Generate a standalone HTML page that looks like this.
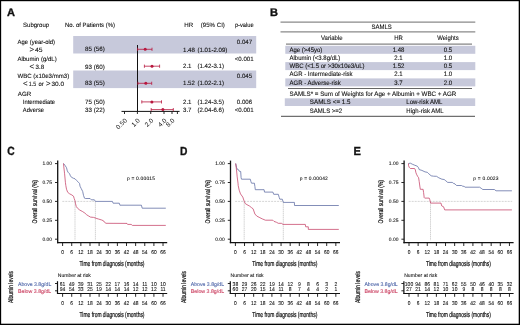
<!DOCTYPE html>
<html><head><meta charset="utf-8"><style>
html,body{margin:0;padding:0;background:#fff;}
#w{position:relative;width:520px;height:325px;overflow:hidden;background:#fff;}
svg{position:absolute;left:0;top:0;font-family:"Liberation Sans", sans-serif;will-change:transform;text-rendering:geometricPrecision;}
</style></head><body><div id="w">
<svg width="520" height="325" viewBox="0 0 520 325" font-family='"Liberation Sans", sans-serif'>
<text x="7" y="16.0" font-size="11" font-weight="bold" fill="#111" stroke="#111" stroke-width="0.35">A</text>
<rect x="73.2" y="36" width="183" height="17.5" fill="#c7c9db"/>
<rect x="73.2" y="70.5" width="183" height="17.6" fill="#c7c9db"/>
<text x="23" y="26.8" font-size="6.2" textLength="26.2" lengthAdjust="spacingAndGlyphs" fill="#111" stroke="#111" stroke-width="0.1">Subgroup</text>
<text x="65" y="26.8" font-size="6.2" textLength="50" lengthAdjust="spacingAndGlyphs" fill="#111" stroke="#111" stroke-width="0.1">No. of Patients (%)</text>
<text x="184.2" y="26.8" font-size="6.2" textLength="8.9" lengthAdjust="spacingAndGlyphs" fill="#111" stroke="#111" stroke-width="0.1">HR</text>
<text x="200.8" y="26.8" font-size="6.2" textLength="24.1" lengthAdjust="spacingAndGlyphs" fill="#111" stroke="#111" stroke-width="0.1">(95% CI)</text>
<text x="234.9" y="26.8" font-size="6.2" textLength="18.8" lengthAdjust="spacingAndGlyphs" fill="#111" stroke="#111" stroke-width="0.1">p-value</text>
<text x="17.6" y="44.2" font-size="6.2" textLength="37.4" lengthAdjust="spacingAndGlyphs" fill="#111" stroke="#111" stroke-width="0.1">Age (year-old)</text>
<text x="17.4" y="60.8" font-size="6.2" textLength="39.3" lengthAdjust="spacingAndGlyphs" fill="#111" stroke="#111" stroke-width="0.1">Albumin (g/dL)</text>
<text x="17.4" y="77.8" font-size="6.2" textLength="51.86" lengthAdjust="spacingAndGlyphs" fill="#111" stroke="#111" stroke-width="0.1">WBC (x10e3/mm3)</text>
<text x="17.8" y="96.4" font-size="6.2" textLength="13.5" lengthAdjust="spacingAndGlyphs" fill="#111" stroke="#111" stroke-width="0.1">AGR</text>
<text x="22.8" y="104.1" font-size="6.2" textLength="32.2" lengthAdjust="spacingAndGlyphs" fill="#111" stroke="#111" stroke-width="0.1">Intermediate</text>
<text x="22.8" y="111.5" font-size="6.2" textLength="21.2" lengthAdjust="spacingAndGlyphs" fill="#111" stroke="#111" stroke-width="0.1">Adverse</text>
<text x="29.6" y="51.7" font-size="7.8" fill="#111" stroke="#111" stroke-width="0.1">&gt;</text>
<text x="35.0" y="51.5" font-size="6.2" textLength="7.6" lengthAdjust="spacingAndGlyphs" fill="#111" stroke="#111" stroke-width="0.1">45</text>
<text x="29.6" y="69.2" font-size="7.8" fill="#111" stroke="#111" stroke-width="0.1">&lt;</text>
<text x="35.6" y="68.6" font-size="6.2" textLength="8.6" lengthAdjust="spacingAndGlyphs" fill="#111" stroke="#111" stroke-width="0.1">3.8</text>
<text x="23.0" y="85.9" font-size="7.8" fill="#111" stroke="#111" stroke-width="0.1">&lt;</text>
<text x="28.8" y="85.5" font-size="6.2" textLength="7.4" lengthAdjust="spacingAndGlyphs" fill="#111" stroke="#111" stroke-width="0.1">1.5</text>
<text x="38.6" y="85.5" font-size="6.2" textLength="5.2" lengthAdjust="spacingAndGlyphs" fill="#111" stroke="#111" stroke-width="0.1">or</text>
<text x="45.9" y="85.9" font-size="7.8" fill="#111" stroke="#111" stroke-width="0.1">&gt;</text>
<text x="51.5" y="85.5" font-size="6.2" textLength="12.6" lengthAdjust="spacingAndGlyphs" fill="#111" stroke="#111" stroke-width="0.1">30.0</text>
<text x="85.1" y="51.4" font-size="6.2" textLength="19.8" lengthAdjust="spacingAndGlyphs" fill="#111" stroke="#111" stroke-width="0.1">85 (56)</text>
<text x="85.1" y="68.5" font-size="6.2" textLength="19.8" lengthAdjust="spacingAndGlyphs" fill="#111" stroke="#111" stroke-width="0.1">93 (60)</text>
<text x="85.1" y="85.3" font-size="6.2" textLength="19.8" lengthAdjust="spacingAndGlyphs" fill="#111" stroke="#111" stroke-width="0.1">83 (55)</text>
<text x="85.1" y="104.1" font-size="6.2" textLength="19.8" lengthAdjust="spacingAndGlyphs" fill="#111" stroke="#111" stroke-width="0.1">75 (50)</text>
<text x="85.1" y="111.6" font-size="6.2" textLength="19.8" lengthAdjust="spacingAndGlyphs" fill="#111" stroke="#111" stroke-width="0.1">33 (22)</text>
<text x="183" y="51.6" font-size="6.2" textLength="11.87" lengthAdjust="spacingAndGlyphs" fill="#111" stroke="#111" stroke-width="0.1">1.48</text>
<text x="197.5" y="51.6" font-size="6.2" textLength="29.84" lengthAdjust="spacingAndGlyphs" fill="#111" stroke="#111" stroke-width="0.1">(1.01-2.09)</text>
<text x="183" y="68.2" font-size="6.2" textLength="8.48" lengthAdjust="spacingAndGlyphs" fill="#111" stroke="#111" stroke-width="0.1">2.1</text>
<text x="197.5" y="68.2" font-size="6.2" textLength="26.44" lengthAdjust="spacingAndGlyphs" fill="#111" stroke="#111" stroke-width="0.1">(1.42-3.1)</text>
<text x="183" y="84.8" font-size="6.2" textLength="11.87" lengthAdjust="spacingAndGlyphs" fill="#111" stroke="#111" stroke-width="0.1">1.52</text>
<text x="197.5" y="84.8" font-size="6.2" textLength="26.44" lengthAdjust="spacingAndGlyphs" fill="#111" stroke="#111" stroke-width="0.1">(1.02-2.1)</text>
<text x="183" y="104.1" font-size="6.2" textLength="8.48" lengthAdjust="spacingAndGlyphs" fill="#111" stroke="#111" stroke-width="0.1">2.1</text>
<text x="197.5" y="104.1" font-size="6.2" textLength="26.44" lengthAdjust="spacingAndGlyphs" fill="#111" stroke="#111" stroke-width="0.1">(1.24-3.5)</text>
<text x="183" y="111.6" font-size="6.2" textLength="8.48" lengthAdjust="spacingAndGlyphs" fill="#111" stroke="#111" stroke-width="0.1">3.7</text>
<text x="197.5" y="111.6" font-size="6.2" textLength="26.44" lengthAdjust="spacingAndGlyphs" fill="#111" stroke="#111" stroke-width="0.1">(2.04-6.6)</text>
<text x="236.8" y="44.0" font-size="6.2" textLength="15.26" lengthAdjust="spacingAndGlyphs" fill="#111" stroke="#111" stroke-width="0.1">0.047</text>
<text x="234.8" y="60.5" font-size="6.2" textLength="18.83" lengthAdjust="spacingAndGlyphs" fill="#111" stroke="#111" stroke-width="0.1">&lt;0.001</text>
<text x="236.8" y="77.6" font-size="6.2" textLength="15.26" lengthAdjust="spacingAndGlyphs" fill="#111" stroke="#111" stroke-width="0.1">0.045</text>
<text x="236.8" y="104.1" font-size="6.2" textLength="15.26" lengthAdjust="spacingAndGlyphs" fill="#111" stroke="#111" stroke-width="0.1">0.006</text>
<text x="234.8" y="111.6" font-size="6.2" textLength="18.83" lengthAdjust="spacingAndGlyphs" fill="#111" stroke="#111" stroke-width="0.1">&lt;0.001</text>
<line x1="137.5" y1="45" x2="137.5" y2="111.4" stroke="#111" stroke-width="1"/>
<line x1="121.5" y1="111.4" x2="179.6" y2="111.4" stroke="#111" stroke-width="1"/>
<line x1="124.5" y1="111.4" x2="124.5" y2="114" stroke="#111" stroke-width="0.9"/>
<line x1="137.4" y1="111.4" x2="137.4" y2="114" stroke="#111" stroke-width="0.9"/>
<line x1="150.75" y1="111.4" x2="150.75" y2="114" stroke="#111" stroke-width="0.9"/>
<line x1="164" y1="111.4" x2="164" y2="114" stroke="#111" stroke-width="0.9"/>
<line x1="172" y1="111.4" x2="172" y2="114" stroke="#111" stroke-width="0.9"/>
<line x1="177.4" y1="111.4" x2="177.4" y2="114" stroke="#111" stroke-width="0.9"/>
<text x="0" y="0" font-size="6.4" text-anchor="end" fill="#111" transform="translate(127.4,121.0) rotate(-45)">0.50</text>
<text x="0" y="0" font-size="6.4" text-anchor="end" fill="#111" transform="translate(140.3,121.0) rotate(-45)">1.0</text>
<text x="0" y="0" font-size="6.4" text-anchor="end" fill="#111" transform="translate(153.65,121.0) rotate(-45)">2.0</text>
<text x="0" y="0" font-size="6.4" text-anchor="end" fill="#111" transform="translate(166.9,121.0) rotate(-45)">4.0</text>
<text x="0" y="0" font-size="6.4" text-anchor="end" fill="#111" transform="translate(174.9,121.0) rotate(-45)">8.0</text>
<line x1="137.6" y1="49.3" x2="152" y2="49.3" stroke="#b8173e" stroke-width="0.8"/>
<line x1="137.6" y1="47.699999999999996" x2="137.6" y2="50.9" stroke="#b8173e" stroke-width="0.8"/>
<line x1="152" y1="47.699999999999996" x2="152" y2="50.9" stroke="#b8173e" stroke-width="0.8"/>
<circle cx="145.2" cy="49.3" r="1.5" fill="#b8173e"/>
<line x1="144.4" y1="66.2" x2="159.6" y2="66.2" stroke="#b8173e" stroke-width="0.8"/>
<line x1="144.4" y1="64.60000000000001" x2="144.4" y2="67.8" stroke="#b8173e" stroke-width="0.8"/>
<line x1="159.6" y1="64.60000000000001" x2="159.6" y2="67.8" stroke="#b8173e" stroke-width="0.8"/>
<circle cx="152" cy="66.2" r="1.5" fill="#b8173e"/>
<line x1="137.9" y1="83.3" x2="151.7" y2="83.3" stroke="#b8173e" stroke-width="0.8"/>
<line x1="137.9" y1="81.7" x2="137.9" y2="84.89999999999999" stroke="#b8173e" stroke-width="0.8"/>
<line x1="151.7" y1="81.7" x2="151.7" y2="84.89999999999999" stroke="#b8173e" stroke-width="0.8"/>
<circle cx="145.8" cy="83.3" r="1.5" fill="#b8173e"/>
<line x1="141.8" y1="101.9" x2="161.5" y2="101.9" stroke="#b8173e" stroke-width="0.8"/>
<line x1="141.8" y1="100.30000000000001" x2="141.8" y2="103.5" stroke="#b8173e" stroke-width="0.8"/>
<line x1="161.5" y1="100.30000000000001" x2="161.5" y2="103.5" stroke="#b8173e" stroke-width="0.8"/>
<circle cx="151.9" cy="101.9" r="1.5" fill="#b8173e"/>
<line x1="151.2" y1="109.6" x2="173.3" y2="109.6" stroke="#b8173e" stroke-width="0.8"/>
<line x1="151.2" y1="108.0" x2="151.2" y2="111.19999999999999" stroke="#b8173e" stroke-width="0.8"/>
<line x1="173.3" y1="108.0" x2="173.3" y2="111.19999999999999" stroke="#b8173e" stroke-width="0.8"/>
<circle cx="162.9" cy="109.6" r="1.5" fill="#b8173e"/>
<text x="270" y="16.1" font-size="11" font-weight="bold" fill="#111" stroke="#111" stroke-width="0.35">B</text>
<line x1="280.5" y1="22.2" x2="475.3" y2="22.2" stroke="#8a8a8a" stroke-width="1.2"/>
<line x1="280.5" y1="31.85" x2="475.3" y2="31.85" stroke="#8a8a8a" stroke-width="1.2"/>
<text x="381.7" y="29.4" font-size="6.4" text-anchor="middle" textLength="20.34" lengthAdjust="spacingAndGlyphs" fill="#111" stroke="#111" stroke-width="0.1">SAMLS</text>
<text x="331.8" y="40.4" font-size="6.4" text-anchor="middle" textLength="21.57" lengthAdjust="spacingAndGlyphs" fill="#111" stroke="#111" stroke-width="0.1">Variable</text>
<text x="398.5" y="40.4" font-size="6.4" text-anchor="middle" textLength="8.67" lengthAdjust="spacingAndGlyphs" fill="#111" stroke="#111" stroke-width="0.1">HR</text>
<text x="448" y="40.4" font-size="6.4" text-anchor="middle" textLength="21.56" lengthAdjust="spacingAndGlyphs" fill="#111" stroke="#111" stroke-width="0.1">Weights</text>
<line x1="286" y1="44.1" x2="472" y2="44.1" stroke="#555" stroke-width="0.9"/>
<rect x="285.3" y="45.8" width="190" height="8.0" fill="#c7c9db"/>
<text x="289.5" y="52.0" font-size="6.4" textLength="32.85" lengthAdjust="spacingAndGlyphs" fill="#111" stroke="#111" stroke-width="0.1">Age (&gt;45yo)</text>
<text x="398.5" y="52.0" font-size="6.4" text-anchor="middle" textLength="11.68" lengthAdjust="spacingAndGlyphs" fill="#111" stroke="#111" stroke-width="0.1">1.48</text>
<text x="448" y="52.0" font-size="6.4" text-anchor="middle" textLength="8.34" lengthAdjust="spacingAndGlyphs" fill="#111" stroke="#111" stroke-width="0.1">0.5</text>
<text x="289.5" y="60.15" font-size="6.4" textLength="50.86" lengthAdjust="spacingAndGlyphs" fill="#111" stroke="#111" stroke-width="0.1">Albumin (&lt;3.8g/dL)</text>
<text x="398.5" y="60.15" font-size="6.4" text-anchor="middle" textLength="8.34" lengthAdjust="spacingAndGlyphs" fill="#111" stroke="#111" stroke-width="0.1">2.1</text>
<text x="448" y="60.15" font-size="6.4" text-anchor="middle" textLength="8.34" lengthAdjust="spacingAndGlyphs" fill="#111" stroke="#111" stroke-width="0.1">1.0</text>
<rect x="285.3" y="62.099999999999994" width="190" height="8.0" fill="#c7c9db"/>
<text x="289.5" y="68.3" font-size="6.4" textLength="75.04" lengthAdjust="spacingAndGlyphs" fill="#111" stroke="#111" stroke-width="0.1">WBC (&lt;1.5 or &gt;30x10e3/uL)</text>
<text x="398.5" y="68.3" font-size="6.4" text-anchor="middle" textLength="11.68" lengthAdjust="spacingAndGlyphs" fill="#111" stroke="#111" stroke-width="0.1">1.52</text>
<text x="448" y="68.3" font-size="6.4" text-anchor="middle" textLength="8.34" lengthAdjust="spacingAndGlyphs" fill="#111" stroke="#111" stroke-width="0.1">0.5</text>
<text x="289.5" y="76.45" font-size="6.4" textLength="63.01" lengthAdjust="spacingAndGlyphs" fill="#111" stroke="#111" stroke-width="0.1">AGR - Intermediate-risk</text>
<text x="398.5" y="76.45" font-size="6.4" text-anchor="middle" textLength="8.34" lengthAdjust="spacingAndGlyphs" fill="#111" stroke="#111" stroke-width="0.1">2.1</text>
<text x="448" y="76.45" font-size="6.4" text-anchor="middle" textLength="8.34" lengthAdjust="spacingAndGlyphs" fill="#111" stroke="#111" stroke-width="0.1">1.0</text>
<rect x="285.3" y="78.4" width="190" height="8.0" fill="#c7c9db"/>
<text x="289.5" y="84.60000000000001" font-size="6.4" textLength="51.34" lengthAdjust="spacingAndGlyphs" fill="#111" stroke="#111" stroke-width="0.1">AGR - Adverse-risk</text>
<text x="398.5" y="84.60000000000001" font-size="6.4" text-anchor="middle" textLength="8.34" lengthAdjust="spacingAndGlyphs" fill="#111" stroke="#111" stroke-width="0.1">3.7</text>
<text x="448" y="84.60000000000001" font-size="6.4" text-anchor="middle" textLength="8.34" lengthAdjust="spacingAndGlyphs" fill="#111" stroke="#111" stroke-width="0.1">2.0</text>
<line x1="288" y1="88.5" x2="472" y2="88.5" stroke="#555" stroke-width="0.9"/>
<text x="289.6" y="95.6" font-size="6.4" textLength="166.7" lengthAdjust="spacingAndGlyphs" fill="#111" stroke="#111" stroke-width="0.1">SAMLS* = Sum of Weights for Age + Albumin + WBC + AGR</text>
<rect x="284.8" y="98.3" width="190.4" height="7.7" fill="#c7c9db"/>
<text x="309.8" y="104.4" font-size="6.4" textLength="40.69" lengthAdjust="spacingAndGlyphs" fill="#111" stroke="#111" stroke-width="0.1">SAMLS &lt;=  1.5</text>
<text x="406.3" y="104.4" font-size="6.4" textLength="36.01" lengthAdjust="spacingAndGlyphs" fill="#111" stroke="#111" stroke-width="0.1">Low-risk AML</text>
<text x="309.8" y="112.9" font-size="6.4" textLength="32.35" lengthAdjust="spacingAndGlyphs" fill="#111" stroke="#111" stroke-width="0.1">SAMLS &gt;=2</text>
<text x="406.3" y="112.9" font-size="6.4" textLength="37.34" lengthAdjust="spacingAndGlyphs" fill="#111" stroke="#111" stroke-width="0.1">High-risk AML</text>
<line x1="281" y1="116.4" x2="475" y2="116.4" stroke="#6f6f6f" stroke-width="1.1"/>
<text x="7.2" y="154.6" font-size="11.8" font-weight="bold" textLength="7.4" lengthAdjust="spacingAndGlyphs" fill="#111" stroke="#111" stroke-width="0.35">C</text>
<line x1="57.7" y1="160.6" x2="57.7" y2="243.2" stroke="#111" stroke-width="1.3"/>
<line x1="57.0" y1="242.6" x2="167.2" y2="242.6" stroke="#111" stroke-width="1.3"/>
<line x1="55" y1="163.6" x2="57.7" y2="163.6" stroke="#111" stroke-width="0.9"/>
<text x="52.0" y="165.4" font-size="5.0" text-anchor="end" textLength="9.6" lengthAdjust="spacingAndGlyphs" fill="#111" stroke="#111" stroke-width="0.08">1.00</text>
<line x1="55" y1="182.5" x2="57.7" y2="182.5" stroke="#111" stroke-width="0.9"/>
<text x="52.0" y="184.3" font-size="5.0" text-anchor="end" textLength="9.6" lengthAdjust="spacingAndGlyphs" fill="#111" stroke="#111" stroke-width="0.08">0.75</text>
<line x1="55" y1="201.39999999999998" x2="57.7" y2="201.39999999999998" stroke="#111" stroke-width="0.9"/>
<text x="52.0" y="203.2" font-size="5.0" text-anchor="end" textLength="9.6" lengthAdjust="spacingAndGlyphs" fill="#111" stroke="#111" stroke-width="0.08">0.50</text>
<line x1="55" y1="220.29999999999998" x2="57.7" y2="220.29999999999998" stroke="#111" stroke-width="0.9"/>
<text x="52.0" y="222.1" font-size="5.0" text-anchor="end" textLength="9.6" lengthAdjust="spacingAndGlyphs" fill="#111" stroke="#111" stroke-width="0.08">0.25</text>
<line x1="55" y1="239.2" x2="57.7" y2="239.2" stroke="#111" stroke-width="0.9"/>
<text x="52.0" y="241.0" font-size="5.0" text-anchor="end" textLength="9.6" lengthAdjust="spacingAndGlyphs" fill="#111" stroke="#111" stroke-width="0.08">0.00</text>
<line x1="62.6" y1="242.6" x2="62.6" y2="246" stroke="#111" stroke-width="0.9"/>
<text x="62.6" y="254.4" font-size="5.6" text-anchor="middle" textLength="2.72" lengthAdjust="spacingAndGlyphs" fill="#111" stroke="#111" stroke-width="0.08">0</text>
<line x1="71.73" y1="242.6" x2="71.73" y2="246" stroke="#111" stroke-width="0.9"/>
<text x="71.73" y="254.4" font-size="5.6" text-anchor="middle" textLength="2.72" lengthAdjust="spacingAndGlyphs" fill="#111" stroke="#111" stroke-width="0.08">6</text>
<line x1="80.86" y1="242.6" x2="80.86" y2="246" stroke="#111" stroke-width="0.9"/>
<text x="80.86" y="254.4" font-size="5.6" text-anchor="middle" textLength="5.45" lengthAdjust="spacingAndGlyphs" fill="#111" stroke="#111" stroke-width="0.08">12</text>
<line x1="89.99000000000001" y1="242.6" x2="89.99000000000001" y2="246" stroke="#111" stroke-width="0.9"/>
<text x="89.99000000000001" y="254.4" font-size="5.6" text-anchor="middle" textLength="5.45" lengthAdjust="spacingAndGlyphs" fill="#111" stroke="#111" stroke-width="0.08">18</text>
<line x1="99.12" y1="242.6" x2="99.12" y2="246" stroke="#111" stroke-width="0.9"/>
<text x="99.12" y="254.4" font-size="5.6" text-anchor="middle" textLength="5.45" lengthAdjust="spacingAndGlyphs" fill="#111" stroke="#111" stroke-width="0.08">24</text>
<line x1="108.25" y1="242.6" x2="108.25" y2="246" stroke="#111" stroke-width="0.9"/>
<text x="108.25" y="254.4" font-size="5.6" text-anchor="middle" textLength="5.45" lengthAdjust="spacingAndGlyphs" fill="#111" stroke="#111" stroke-width="0.08">30</text>
<line x1="117.38" y1="242.6" x2="117.38" y2="246" stroke="#111" stroke-width="0.9"/>
<text x="117.38" y="254.4" font-size="5.6" text-anchor="middle" textLength="5.45" lengthAdjust="spacingAndGlyphs" fill="#111" stroke="#111" stroke-width="0.08">36</text>
<line x1="126.51" y1="242.6" x2="126.51" y2="246" stroke="#111" stroke-width="0.9"/>
<text x="126.51" y="254.4" font-size="5.6" text-anchor="middle" textLength="5.45" lengthAdjust="spacingAndGlyphs" fill="#111" stroke="#111" stroke-width="0.08">42</text>
<line x1="135.64000000000001" y1="242.6" x2="135.64000000000001" y2="246" stroke="#111" stroke-width="0.9"/>
<text x="135.64000000000001" y="254.4" font-size="5.6" text-anchor="middle" textLength="5.45" lengthAdjust="spacingAndGlyphs" fill="#111" stroke="#111" stroke-width="0.08">48</text>
<line x1="144.77" y1="242.6" x2="144.77" y2="246" stroke="#111" stroke-width="0.9"/>
<text x="144.77" y="254.4" font-size="5.6" text-anchor="middle" textLength="5.45" lengthAdjust="spacingAndGlyphs" fill="#111" stroke="#111" stroke-width="0.08">54</text>
<line x1="153.9" y1="242.6" x2="153.9" y2="246" stroke="#111" stroke-width="0.9"/>
<text x="153.9" y="254.4" font-size="5.6" text-anchor="middle" textLength="5.45" lengthAdjust="spacingAndGlyphs" fill="#111" stroke="#111" stroke-width="0.08">60</text>
<line x1="163.03" y1="242.6" x2="163.03" y2="246" stroke="#111" stroke-width="0.9"/>
<text x="163.03" y="254.4" font-size="5.6" text-anchor="middle" textLength="5.45" lengthAdjust="spacingAndGlyphs" fill="#111" stroke="#111" stroke-width="0.08">66</text>
<text x="0" y="0" font-size="6.8" text-anchor="middle" fill="#111" stroke="#111" stroke-width="0.22" transform="translate(37.0,201.7) rotate(-90)" textLength="43.4" lengthAdjust="spacingAndGlyphs">Overall survival (%)</text>
<text x="112.0" y="265.8" font-size="7.2" text-anchor="middle" textLength="65.0" lengthAdjust="spacingAndGlyphs" fill="#111" stroke="#111" stroke-width="0.22">Time from diagnosis (months)</text>
<text x="126.9" y="180.3" font-size="4.9" textLength="28.14" lengthAdjust="spacing" fill="#111" stroke="#111" stroke-width="0.08">p = 0.00015</text>
<line x1="62.3" y1="201.4" x2="95.4" y2="201.4" stroke="#c4c4c4" stroke-width="0.7" stroke-dasharray="2,1"/>
<line x1="75.0" y1="201.4" x2="75.0" y2="240.2" stroke="#c4c4c4" stroke-width="0.75" stroke-dasharray="1.4,0.5"/>
<line x1="95.4" y1="201.4" x2="95.4" y2="240.2" stroke="#c4c4c4" stroke-width="0.75" stroke-dasharray="1.4,0.5"/>
<polyline points="63.50,163.50 65.00,165.40 66.50,167.70 67.30,170.80 68.10,172.30 69.60,173.80 70.40,175.80 71.50,177.30 73.50,178.30 75.00,178.80 76.50,180.40 78.50,182.30 79.60,183.60 80.00,186.20 81.20,188.50 82.70,191.50 83.50,195.40 84.50,198.20 85.40,198.50 90.10,198.50 91.30,199.80 94.40,199.80 95.40,201.40 112.40,201.40 113.10,203.20 119.30,203.20 119.90,205.20 141.40,205.20 142.20,208.20 165.80,208.20" fill="none" stroke="#5a68a0" stroke-width="0.75" stroke-linejoin="miter"/>
<polyline points="63.50,163.50 63.80,166.90 64.60,173.80 65.40,182.30 65.80,185.40 66.50,189.20 67.70,192.30 69.60,193.80 71.90,195.00 73.50,196.20 74.20,198.50 75.00,200.80 75.40,203.20 76.30,206.60 77.60,208.30 79.80,210.10 82.30,211.40 84.90,213.10 86.70,214.80 88.80,216.10 90.50,217.10 93.60,217.40 96.10,218.30 98.70,219.10 101.70,220.00 103.50,220.80 104.30,222.10 106.00,223.30 127.00,223.40 127.60,224.40 131.20,224.40 132.40,225.40 165.80,225.40" fill="none" stroke="#c43f66" stroke-width="0.75" stroke-linejoin="miter"/>
<text x="0" y="0" font-size="6.8" text-anchor="middle" fill="#111" stroke="#111" stroke-width="0.22" transform="translate(13.3,287) rotate(-90)" textLength="32" lengthAdjust="spacingAndGlyphs">Albumin levels</text>
<text x="57.8" y="276.5" font-size="5.2" textLength="33" lengthAdjust="spacingAndGlyphs" fill="#111" stroke="#111" stroke-width="0.08">Number at risk</text>
<text x="18" y="285.5" font-size="5.3" textLength="33.3" lengthAdjust="spacingAndGlyphs" fill="#4a62a6" stroke="#4a62a6" stroke-width="0.1">Above 3.8g/dL</text>
<text x="18" y="292.6" font-size="5.3" textLength="33.3" lengthAdjust="spacingAndGlyphs" fill="#c8385a" stroke="#c8385a" stroke-width="0.1">Below 3.8g/dL</text>
<line x1="57.5" y1="281.2" x2="57.5" y2="294" stroke="#111" stroke-width="1.2"/>
<line x1="55" y1="283.5" x2="57.5" y2="283.5" stroke="#111" stroke-width="0.9"/>
<line x1="55" y1="290.8" x2="57.5" y2="290.8" stroke="#111" stroke-width="0.9"/>
<line x1="57" y1="293.5" x2="167.2" y2="293.5" stroke="#111" stroke-width="1.2"/>
<line x1="62.6" y1="293.5" x2="62.6" y2="296.8" stroke="#111" stroke-width="0.9"/>
<text x="62.6" y="305.3" font-size="5.6" text-anchor="middle" textLength="2.72" lengthAdjust="spacingAndGlyphs" fill="#111" stroke="#111" stroke-width="0.08">0</text>
<text x="62.6" y="285.7" font-size="5.6" text-anchor="middle" textLength="5.56" lengthAdjust="spacingAndGlyphs" fill="#111" stroke="#111" stroke-width="0.08">61</text>
<text x="62.6" y="291.3" font-size="5.6" text-anchor="middle" textLength="5.56" lengthAdjust="spacingAndGlyphs" fill="#111" stroke="#111" stroke-width="0.08">94</text>
<line x1="71.73" y1="293.5" x2="71.73" y2="296.8" stroke="#111" stroke-width="0.9"/>
<text x="71.73" y="305.3" font-size="5.6" text-anchor="middle" textLength="2.72" lengthAdjust="spacingAndGlyphs" fill="#111" stroke="#111" stroke-width="0.08">6</text>
<text x="71.73" y="285.7" font-size="5.6" text-anchor="middle" textLength="5.56" lengthAdjust="spacingAndGlyphs" fill="#111" stroke="#111" stroke-width="0.08">49</text>
<text x="71.73" y="291.3" font-size="5.6" text-anchor="middle" textLength="5.56" lengthAdjust="spacingAndGlyphs" fill="#111" stroke="#111" stroke-width="0.08">54</text>
<line x1="80.86" y1="293.5" x2="80.86" y2="296.8" stroke="#111" stroke-width="0.9"/>
<text x="80.86" y="305.3" font-size="5.6" text-anchor="middle" textLength="5.45" lengthAdjust="spacingAndGlyphs" fill="#111" stroke="#111" stroke-width="0.08">12</text>
<text x="80.86" y="285.7" font-size="5.6" text-anchor="middle" textLength="5.56" lengthAdjust="spacingAndGlyphs" fill="#111" stroke="#111" stroke-width="0.08">39</text>
<text x="80.86" y="291.3" font-size="5.6" text-anchor="middle" textLength="5.56" lengthAdjust="spacingAndGlyphs" fill="#111" stroke="#111" stroke-width="0.08">33</text>
<line x1="89.99000000000001" y1="293.5" x2="89.99000000000001" y2="296.8" stroke="#111" stroke-width="0.9"/>
<text x="89.99000000000001" y="305.3" font-size="5.6" text-anchor="middle" textLength="5.45" lengthAdjust="spacingAndGlyphs" fill="#111" stroke="#111" stroke-width="0.08">18</text>
<text x="89.99000000000001" y="285.7" font-size="5.6" text-anchor="middle" textLength="5.56" lengthAdjust="spacingAndGlyphs" fill="#111" stroke="#111" stroke-width="0.08">31</text>
<text x="89.99000000000001" y="291.3" font-size="5.6" text-anchor="middle" textLength="5.56" lengthAdjust="spacingAndGlyphs" fill="#111" stroke="#111" stroke-width="0.08">25</text>
<line x1="99.12" y1="293.5" x2="99.12" y2="296.8" stroke="#111" stroke-width="0.9"/>
<text x="99.12" y="305.3" font-size="5.6" text-anchor="middle" textLength="5.45" lengthAdjust="spacingAndGlyphs" fill="#111" stroke="#111" stroke-width="0.08">24</text>
<text x="99.12" y="285.7" font-size="5.6" text-anchor="middle" textLength="5.56" lengthAdjust="spacingAndGlyphs" fill="#111" stroke="#111" stroke-width="0.08">25</text>
<text x="99.12" y="291.3" font-size="5.6" text-anchor="middle" textLength="5.56" lengthAdjust="spacingAndGlyphs" fill="#111" stroke="#111" stroke-width="0.08">19</text>
<line x1="108.25" y1="293.5" x2="108.25" y2="296.8" stroke="#111" stroke-width="0.9"/>
<text x="108.25" y="305.3" font-size="5.6" text-anchor="middle" textLength="5.45" lengthAdjust="spacingAndGlyphs" fill="#111" stroke="#111" stroke-width="0.08">30</text>
<text x="108.25" y="285.7" font-size="5.6" text-anchor="middle" textLength="5.56" lengthAdjust="spacingAndGlyphs" fill="#111" stroke="#111" stroke-width="0.08">22</text>
<text x="108.25" y="291.3" font-size="5.6" text-anchor="middle" textLength="5.56" lengthAdjust="spacingAndGlyphs" fill="#111" stroke="#111" stroke-width="0.08">14</text>
<line x1="117.38" y1="293.5" x2="117.38" y2="296.8" stroke="#111" stroke-width="0.9"/>
<text x="117.38" y="305.3" font-size="5.6" text-anchor="middle" textLength="5.45" lengthAdjust="spacingAndGlyphs" fill="#111" stroke="#111" stroke-width="0.08">36</text>
<text x="117.38" y="285.7" font-size="5.6" text-anchor="middle" textLength="5.56" lengthAdjust="spacingAndGlyphs" fill="#111" stroke="#111" stroke-width="0.08">17</text>
<text x="117.38" y="291.3" font-size="5.6" text-anchor="middle" textLength="5.56" lengthAdjust="spacingAndGlyphs" fill="#111" stroke="#111" stroke-width="0.08">14</text>
<line x1="126.51" y1="293.5" x2="126.51" y2="296.8" stroke="#111" stroke-width="0.9"/>
<text x="126.51" y="305.3" font-size="5.6" text-anchor="middle" textLength="5.45" lengthAdjust="spacingAndGlyphs" fill="#111" stroke="#111" stroke-width="0.08">42</text>
<text x="126.51" y="285.7" font-size="5.6" text-anchor="middle" textLength="5.56" lengthAdjust="spacingAndGlyphs" fill="#111" stroke="#111" stroke-width="0.08">16</text>
<text x="126.51" y="291.3" font-size="5.6" text-anchor="middle" textLength="5.56" lengthAdjust="spacingAndGlyphs" fill="#111" stroke="#111" stroke-width="0.08">14</text>
<line x1="135.64000000000001" y1="293.5" x2="135.64000000000001" y2="296.8" stroke="#111" stroke-width="0.9"/>
<text x="135.64000000000001" y="305.3" font-size="5.6" text-anchor="middle" textLength="5.45" lengthAdjust="spacingAndGlyphs" fill="#111" stroke="#111" stroke-width="0.08">48</text>
<text x="135.64000000000001" y="285.7" font-size="5.6" text-anchor="middle" textLength="5.56" lengthAdjust="spacingAndGlyphs" fill="#111" stroke="#111" stroke-width="0.08">14</text>
<text x="135.64000000000001" y="291.3" font-size="5.6" text-anchor="middle" textLength="5.56" lengthAdjust="spacingAndGlyphs" fill="#111" stroke="#111" stroke-width="0.08">12</text>
<line x1="144.77" y1="293.5" x2="144.77" y2="296.8" stroke="#111" stroke-width="0.9"/>
<text x="144.77" y="305.3" font-size="5.6" text-anchor="middle" textLength="5.45" lengthAdjust="spacingAndGlyphs" fill="#111" stroke="#111" stroke-width="0.08">54</text>
<text x="144.77" y="285.7" font-size="5.6" text-anchor="middle" textLength="5.19" lengthAdjust="spacingAndGlyphs" fill="#111" stroke="#111" stroke-width="0.08">11</text>
<text x="144.77" y="291.3" font-size="5.6" text-anchor="middle" textLength="5.56" lengthAdjust="spacingAndGlyphs" fill="#111" stroke="#111" stroke-width="0.08">12</text>
<line x1="153.9" y1="293.5" x2="153.9" y2="296.8" stroke="#111" stroke-width="0.9"/>
<text x="153.9" y="305.3" font-size="5.6" text-anchor="middle" textLength="5.45" lengthAdjust="spacingAndGlyphs" fill="#111" stroke="#111" stroke-width="0.08">60</text>
<text x="153.9" y="285.7" font-size="5.6" text-anchor="middle" textLength="5.56" lengthAdjust="spacingAndGlyphs" fill="#111" stroke="#111" stroke-width="0.08">10</text>
<text x="153.9" y="291.3" font-size="5.6" text-anchor="middle" textLength="5.56" lengthAdjust="spacingAndGlyphs" fill="#111" stroke="#111" stroke-width="0.08">12</text>
<line x1="163.03" y1="293.5" x2="163.03" y2="296.8" stroke="#111" stroke-width="0.9"/>
<text x="163.03" y="305.3" font-size="5.6" text-anchor="middle" textLength="5.45" lengthAdjust="spacingAndGlyphs" fill="#111" stroke="#111" stroke-width="0.08">66</text>
<text x="163.03" y="285.7" font-size="5.6" text-anchor="middle" textLength="5.56" lengthAdjust="spacingAndGlyphs" fill="#111" stroke="#111" stroke-width="0.08">10</text>
<text x="163.03" y="291.3" font-size="5.6" text-anchor="middle" textLength="5.19" lengthAdjust="spacingAndGlyphs" fill="#111" stroke="#111" stroke-width="0.08">11</text>
<text x="112.0" y="317.2" font-size="7.2" text-anchor="middle" textLength="65.0" lengthAdjust="spacingAndGlyphs" fill="#111" stroke="#111" stroke-width="0.22">Time from diagnosis (months)</text>
<text x="180.0" y="154.6" font-size="11.8" font-weight="bold" textLength="7.4" lengthAdjust="spacingAndGlyphs" fill="#111" stroke="#111" stroke-width="0.35">D</text>
<line x1="230.5" y1="160.6" x2="230.5" y2="243.2" stroke="#111" stroke-width="1.3"/>
<line x1="229.8" y1="242.6" x2="340.0" y2="242.6" stroke="#111" stroke-width="1.3"/>
<line x1="227.8" y1="163.6" x2="230.5" y2="163.6" stroke="#111" stroke-width="0.9"/>
<text x="224.8" y="165.4" font-size="5.0" text-anchor="end" textLength="9.6" lengthAdjust="spacingAndGlyphs" fill="#111" stroke="#111" stroke-width="0.08">1.00</text>
<line x1="227.8" y1="182.5" x2="230.5" y2="182.5" stroke="#111" stroke-width="0.9"/>
<text x="224.8" y="184.3" font-size="5.0" text-anchor="end" textLength="9.6" lengthAdjust="spacingAndGlyphs" fill="#111" stroke="#111" stroke-width="0.08">0.75</text>
<line x1="227.8" y1="201.39999999999998" x2="230.5" y2="201.39999999999998" stroke="#111" stroke-width="0.9"/>
<text x="224.8" y="203.2" font-size="5.0" text-anchor="end" textLength="9.6" lengthAdjust="spacingAndGlyphs" fill="#111" stroke="#111" stroke-width="0.08">0.50</text>
<line x1="227.8" y1="220.29999999999998" x2="230.5" y2="220.29999999999998" stroke="#111" stroke-width="0.9"/>
<text x="224.8" y="222.1" font-size="5.0" text-anchor="end" textLength="9.6" lengthAdjust="spacingAndGlyphs" fill="#111" stroke="#111" stroke-width="0.08">0.25</text>
<line x1="227.8" y1="239.2" x2="230.5" y2="239.2" stroke="#111" stroke-width="0.9"/>
<text x="224.8" y="241.0" font-size="5.0" text-anchor="end" textLength="9.6" lengthAdjust="spacingAndGlyphs" fill="#111" stroke="#111" stroke-width="0.08">0.00</text>
<line x1="235.4" y1="242.6" x2="235.4" y2="246" stroke="#111" stroke-width="0.9"/>
<text x="235.4" y="254.4" font-size="5.6" text-anchor="middle" textLength="2.72" lengthAdjust="spacingAndGlyphs" fill="#111" stroke="#111" stroke-width="0.08">0</text>
<line x1="244.53000000000003" y1="242.6" x2="244.53000000000003" y2="246" stroke="#111" stroke-width="0.9"/>
<text x="244.53000000000003" y="254.4" font-size="5.6" text-anchor="middle" textLength="2.72" lengthAdjust="spacingAndGlyphs" fill="#111" stroke="#111" stroke-width="0.08">6</text>
<line x1="253.66000000000003" y1="242.6" x2="253.66000000000003" y2="246" stroke="#111" stroke-width="0.9"/>
<text x="253.66000000000003" y="254.4" font-size="5.6" text-anchor="middle" textLength="5.45" lengthAdjust="spacingAndGlyphs" fill="#111" stroke="#111" stroke-width="0.08">12</text>
<line x1="262.79" y1="242.6" x2="262.79" y2="246" stroke="#111" stroke-width="0.9"/>
<text x="262.79" y="254.4" font-size="5.6" text-anchor="middle" textLength="5.45" lengthAdjust="spacingAndGlyphs" fill="#111" stroke="#111" stroke-width="0.08">18</text>
<line x1="271.92" y1="242.6" x2="271.92" y2="246" stroke="#111" stroke-width="0.9"/>
<text x="271.92" y="254.4" font-size="5.6" text-anchor="middle" textLength="5.45" lengthAdjust="spacingAndGlyphs" fill="#111" stroke="#111" stroke-width="0.08">24</text>
<line x1="281.05" y1="242.6" x2="281.05" y2="246" stroke="#111" stroke-width="0.9"/>
<text x="281.05" y="254.4" font-size="5.6" text-anchor="middle" textLength="5.45" lengthAdjust="spacingAndGlyphs" fill="#111" stroke="#111" stroke-width="0.08">30</text>
<line x1="290.18" y1="242.6" x2="290.18" y2="246" stroke="#111" stroke-width="0.9"/>
<text x="290.18" y="254.4" font-size="5.6" text-anchor="middle" textLength="5.45" lengthAdjust="spacingAndGlyphs" fill="#111" stroke="#111" stroke-width="0.08">36</text>
<line x1="299.31" y1="242.6" x2="299.31" y2="246" stroke="#111" stroke-width="0.9"/>
<text x="299.31" y="254.4" font-size="5.6" text-anchor="middle" textLength="5.45" lengthAdjust="spacingAndGlyphs" fill="#111" stroke="#111" stroke-width="0.08">42</text>
<line x1="308.44000000000005" y1="242.6" x2="308.44000000000005" y2="246" stroke="#111" stroke-width="0.9"/>
<text x="308.44000000000005" y="254.4" font-size="5.6" text-anchor="middle" textLength="5.45" lengthAdjust="spacingAndGlyphs" fill="#111" stroke="#111" stroke-width="0.08">48</text>
<line x1="317.57000000000005" y1="242.6" x2="317.57000000000005" y2="246" stroke="#111" stroke-width="0.9"/>
<text x="317.57000000000005" y="254.4" font-size="5.6" text-anchor="middle" textLength="5.45" lengthAdjust="spacingAndGlyphs" fill="#111" stroke="#111" stroke-width="0.08">54</text>
<line x1="326.70000000000005" y1="242.6" x2="326.70000000000005" y2="246" stroke="#111" stroke-width="0.9"/>
<text x="326.70000000000005" y="254.4" font-size="5.6" text-anchor="middle" textLength="5.45" lengthAdjust="spacingAndGlyphs" fill="#111" stroke="#111" stroke-width="0.08">60</text>
<line x1="335.83000000000004" y1="242.6" x2="335.83000000000004" y2="246" stroke="#111" stroke-width="0.9"/>
<text x="335.83000000000004" y="254.4" font-size="5.6" text-anchor="middle" textLength="5.45" lengthAdjust="spacingAndGlyphs" fill="#111" stroke="#111" stroke-width="0.08">66</text>
<text x="0" y="0" font-size="6.8" text-anchor="middle" fill="#111" stroke="#111" stroke-width="0.22" transform="translate(209.8,201.7) rotate(-90)" textLength="43.4" lengthAdjust="spacingAndGlyphs">Overall survival (%)</text>
<text x="284.8" y="265.8" font-size="7.2" text-anchor="middle" textLength="65.0" lengthAdjust="spacingAndGlyphs" fill="#111" stroke="#111" stroke-width="0.22">Time from diagnosis (months)</text>
<text x="299.70000000000005" y="180.3" font-size="4.9" textLength="28.14" lengthAdjust="spacing" fill="#111" stroke="#111" stroke-width="0.08">p = 0.00042</text>
<line x1="235.10000000000002" y1="201.4" x2="283.3" y2="201.4" stroke="#c4c4c4" stroke-width="0.7" stroke-dasharray="2,1"/>
<line x1="244.2" y1="201.4" x2="244.2" y2="240.2" stroke="#c4c4c4" stroke-width="0.75" stroke-dasharray="1.4,0.5"/>
<line x1="283.3" y1="201.4" x2="283.3" y2="240.2" stroke="#c4c4c4" stroke-width="0.75" stroke-dasharray="1.4,0.5"/>
<polyline points="235.70,163.50 236.50,167.30 237.20,169.20 238.40,169.60 239.20,171.20 240.70,171.50 241.10,177.70 241.50,179.20 250.30,179.20 250.90,181.50 251.50,183.20 254.40,183.20 254.90,186.50 255.30,189.70 264.10,189.70 264.50,192.10 272.90,192.10 273.70,194.30 278.30,194.30 279.20,197.40 279.80,199.20 282.30,199.20 283.30,202.40 294.40,202.40 294.50,205.50 338.80,205.50" fill="none" stroke="#5a68a0" stroke-width="0.75" stroke-linejoin="miter"/>
<polyline points="235.70,163.50 236.50,170.00 237.20,176.90 238.00,183.10 238.20,185.50 239.20,190.20 240.50,193.90 242.80,197.10 244.20,201.20 245.20,203.50 247.00,204.70 249.30,205.90 251.60,207.70 253.10,208.80 254.90,214.00 256.80,216.10 259.90,217.70 262.30,218.90 265.40,220.20 272.80,220.20 274.00,221.40 276.50,222.30 278.30,223.30 281.40,223.30 283.00,224.40 305.30,224.40 305.70,226.80 308.30,226.80 308.30,229.40 338.80,229.40" fill="none" stroke="#c43f66" stroke-width="0.75" stroke-linejoin="miter"/>
<text x="0" y="0" font-size="6.8" text-anchor="middle" fill="#111" stroke="#111" stroke-width="0.22" transform="translate(186.10000000000002,287) rotate(-90)" textLength="32" lengthAdjust="spacingAndGlyphs">Albumin levels</text>
<text x="230.60000000000002" y="276.5" font-size="5.2" textLength="33" lengthAdjust="spacingAndGlyphs" fill="#111" stroke="#111" stroke-width="0.08">Number at risk</text>
<text x="190.8" y="285.5" font-size="5.3" textLength="33.3" lengthAdjust="spacingAndGlyphs" fill="#4a62a6" stroke="#4a62a6" stroke-width="0.1">Above 3.8g/dL</text>
<text x="190.8" y="292.6" font-size="5.3" textLength="33.3" lengthAdjust="spacingAndGlyphs" fill="#c8385a" stroke="#c8385a" stroke-width="0.1">Below 3.8g/dL</text>
<line x1="230.3" y1="281.2" x2="230.3" y2="294" stroke="#111" stroke-width="1.2"/>
<line x1="227.8" y1="283.5" x2="230.3" y2="283.5" stroke="#111" stroke-width="0.9"/>
<line x1="227.8" y1="290.8" x2="230.3" y2="290.8" stroke="#111" stroke-width="0.9"/>
<line x1="229.8" y1="293.5" x2="340.0" y2="293.5" stroke="#111" stroke-width="1.2"/>
<line x1="235.4" y1="293.5" x2="235.4" y2="296.8" stroke="#111" stroke-width="0.9"/>
<text x="235.4" y="305.3" font-size="5.6" text-anchor="middle" textLength="2.72" lengthAdjust="spacingAndGlyphs" fill="#111" stroke="#111" stroke-width="0.08">0</text>
<text x="235.4" y="285.7" font-size="5.6" text-anchor="middle" textLength="5.56" lengthAdjust="spacingAndGlyphs" fill="#111" stroke="#111" stroke-width="0.08">38</text>
<text x="235.4" y="291.3" font-size="5.6" text-anchor="middle" textLength="5.56" lengthAdjust="spacingAndGlyphs" fill="#111" stroke="#111" stroke-width="0.08">60</text>
<line x1="244.53000000000003" y1="293.5" x2="244.53000000000003" y2="296.8" stroke="#111" stroke-width="0.9"/>
<text x="244.53000000000003" y="305.3" font-size="5.6" text-anchor="middle" textLength="2.72" lengthAdjust="spacingAndGlyphs" fill="#111" stroke="#111" stroke-width="0.08">6</text>
<text x="244.53000000000003" y="285.7" font-size="5.6" text-anchor="middle" textLength="5.56" lengthAdjust="spacingAndGlyphs" fill="#111" stroke="#111" stroke-width="0.08">29</text>
<text x="244.53000000000003" y="291.3" font-size="5.6" text-anchor="middle" textLength="5.56" lengthAdjust="spacingAndGlyphs" fill="#111" stroke="#111" stroke-width="0.08">27</text>
<line x1="253.66000000000003" y1="293.5" x2="253.66000000000003" y2="296.8" stroke="#111" stroke-width="0.9"/>
<text x="253.66000000000003" y="305.3" font-size="5.6" text-anchor="middle" textLength="5.45" lengthAdjust="spacingAndGlyphs" fill="#111" stroke="#111" stroke-width="0.08">12</text>
<text x="253.66000000000003" y="285.7" font-size="5.6" text-anchor="middle" textLength="5.56" lengthAdjust="spacingAndGlyphs" fill="#111" stroke="#111" stroke-width="0.08">26</text>
<text x="253.66000000000003" y="291.3" font-size="5.6" text-anchor="middle" textLength="5.56" lengthAdjust="spacingAndGlyphs" fill="#111" stroke="#111" stroke-width="0.08">20</text>
<line x1="262.79" y1="293.5" x2="262.79" y2="296.8" stroke="#111" stroke-width="0.9"/>
<text x="262.79" y="305.3" font-size="5.6" text-anchor="middle" textLength="5.45" lengthAdjust="spacingAndGlyphs" fill="#111" stroke="#111" stroke-width="0.08">18</text>
<text x="262.79" y="285.7" font-size="5.6" text-anchor="middle" textLength="5.56" lengthAdjust="spacingAndGlyphs" fill="#111" stroke="#111" stroke-width="0.08">22</text>
<text x="262.79" y="291.3" font-size="5.6" text-anchor="middle" textLength="5.56" lengthAdjust="spacingAndGlyphs" fill="#111" stroke="#111" stroke-width="0.08">15</text>
<line x1="271.92" y1="293.5" x2="271.92" y2="296.8" stroke="#111" stroke-width="0.9"/>
<text x="271.92" y="305.3" font-size="5.6" text-anchor="middle" textLength="5.45" lengthAdjust="spacingAndGlyphs" fill="#111" stroke="#111" stroke-width="0.08">24</text>
<text x="271.92" y="285.7" font-size="5.6" text-anchor="middle" textLength="5.56" lengthAdjust="spacingAndGlyphs" fill="#111" stroke="#111" stroke-width="0.08">19</text>
<text x="271.92" y="291.3" font-size="5.6" text-anchor="middle" textLength="5.56" lengthAdjust="spacingAndGlyphs" fill="#111" stroke="#111" stroke-width="0.08">14</text>
<line x1="281.05" y1="293.5" x2="281.05" y2="296.8" stroke="#111" stroke-width="0.9"/>
<text x="281.05" y="305.3" font-size="5.6" text-anchor="middle" textLength="5.45" lengthAdjust="spacingAndGlyphs" fill="#111" stroke="#111" stroke-width="0.08">30</text>
<text x="281.05" y="285.7" font-size="5.6" text-anchor="middle" textLength="5.56" lengthAdjust="spacingAndGlyphs" fill="#111" stroke="#111" stroke-width="0.08">14</text>
<text x="281.05" y="291.3" font-size="5.6" text-anchor="middle" textLength="5.19" lengthAdjust="spacingAndGlyphs" fill="#111" stroke="#111" stroke-width="0.08">11</text>
<line x1="290.18" y1="293.5" x2="290.18" y2="296.8" stroke="#111" stroke-width="0.9"/>
<text x="290.18" y="305.3" font-size="5.6" text-anchor="middle" textLength="5.45" lengthAdjust="spacingAndGlyphs" fill="#111" stroke="#111" stroke-width="0.08">36</text>
<text x="290.18" y="285.7" font-size="5.6" text-anchor="middle" textLength="5.56" lengthAdjust="spacingAndGlyphs" fill="#111" stroke="#111" stroke-width="0.08">12</text>
<text x="290.18" y="291.3" font-size="5.6" text-anchor="middle" textLength="2.78" lengthAdjust="spacingAndGlyphs" fill="#111" stroke="#111" stroke-width="0.08">8</text>
<line x1="299.31" y1="293.5" x2="299.31" y2="296.8" stroke="#111" stroke-width="0.9"/>
<text x="299.31" y="305.3" font-size="5.6" text-anchor="middle" textLength="5.45" lengthAdjust="spacingAndGlyphs" fill="#111" stroke="#111" stroke-width="0.08">42</text>
<text x="299.31" y="285.7" font-size="5.6" text-anchor="middle" textLength="2.78" lengthAdjust="spacingAndGlyphs" fill="#111" stroke="#111" stroke-width="0.08">9</text>
<text x="299.31" y="291.3" font-size="5.6" text-anchor="middle" textLength="2.78" lengthAdjust="spacingAndGlyphs" fill="#111" stroke="#111" stroke-width="0.08">7</text>
<line x1="308.44000000000005" y1="293.5" x2="308.44000000000005" y2="296.8" stroke="#111" stroke-width="0.9"/>
<text x="308.44000000000005" y="305.3" font-size="5.6" text-anchor="middle" textLength="5.45" lengthAdjust="spacingAndGlyphs" fill="#111" stroke="#111" stroke-width="0.08">48</text>
<text x="308.44000000000005" y="285.7" font-size="5.6" text-anchor="middle" textLength="2.78" lengthAdjust="spacingAndGlyphs" fill="#111" stroke="#111" stroke-width="0.08">8</text>
<text x="308.44000000000005" y="291.3" font-size="5.6" text-anchor="middle" textLength="2.78" lengthAdjust="spacingAndGlyphs" fill="#111" stroke="#111" stroke-width="0.08">4</text>
<line x1="317.57000000000005" y1="293.5" x2="317.57000000000005" y2="296.8" stroke="#111" stroke-width="0.9"/>
<text x="317.57000000000005" y="305.3" font-size="5.6" text-anchor="middle" textLength="5.45" lengthAdjust="spacingAndGlyphs" fill="#111" stroke="#111" stroke-width="0.08">54</text>
<text x="317.57000000000005" y="285.7" font-size="5.6" text-anchor="middle" textLength="2.78" lengthAdjust="spacingAndGlyphs" fill="#111" stroke="#111" stroke-width="0.08">6</text>
<text x="317.57000000000005" y="291.3" font-size="5.6" text-anchor="middle" textLength="2.78" lengthAdjust="spacingAndGlyphs" fill="#111" stroke="#111" stroke-width="0.08">4</text>
<line x1="326.70000000000005" y1="293.5" x2="326.70000000000005" y2="296.8" stroke="#111" stroke-width="0.9"/>
<text x="326.70000000000005" y="305.3" font-size="5.6" text-anchor="middle" textLength="5.45" lengthAdjust="spacingAndGlyphs" fill="#111" stroke="#111" stroke-width="0.08">60</text>
<text x="326.70000000000005" y="285.7" font-size="5.6" text-anchor="middle" textLength="2.78" lengthAdjust="spacingAndGlyphs" fill="#111" stroke="#111" stroke-width="0.08">3</text>
<text x="326.70000000000005" y="291.3" font-size="5.6" text-anchor="middle" textLength="2.78" lengthAdjust="spacingAndGlyphs" fill="#111" stroke="#111" stroke-width="0.08">2</text>
<line x1="335.83000000000004" y1="293.5" x2="335.83000000000004" y2="296.8" stroke="#111" stroke-width="0.9"/>
<text x="335.83000000000004" y="305.3" font-size="5.6" text-anchor="middle" textLength="5.45" lengthAdjust="spacingAndGlyphs" fill="#111" stroke="#111" stroke-width="0.08">66</text>
<text x="335.83000000000004" y="285.7" font-size="5.6" text-anchor="middle" textLength="2.78" lengthAdjust="spacingAndGlyphs" fill="#111" stroke="#111" stroke-width="0.08">2</text>
<text x="335.83000000000004" y="291.3" font-size="5.6" text-anchor="middle" textLength="2.78" lengthAdjust="spacingAndGlyphs" fill="#111" stroke="#111" stroke-width="0.08">1</text>
<text x="284.8" y="317.2" font-size="7.2" text-anchor="middle" textLength="65.0" lengthAdjust="spacingAndGlyphs" fill="#111" stroke="#111" stroke-width="0.22">Time from diagnosis (months)</text>
<text x="353.59999999999997" y="154.6" font-size="11.8" font-weight="bold" textLength="7.4" lengthAdjust="spacingAndGlyphs" fill="#111" stroke="#111" stroke-width="0.35">E</text>
<line x1="404.09999999999997" y1="160.6" x2="404.09999999999997" y2="243.2" stroke="#111" stroke-width="1.3"/>
<line x1="403.4" y1="242.6" x2="513.5999999999999" y2="242.6" stroke="#111" stroke-width="1.3"/>
<line x1="401.4" y1="163.6" x2="404.09999999999997" y2="163.6" stroke="#111" stroke-width="0.9"/>
<text x="398.4" y="165.4" font-size="5.0" text-anchor="end" textLength="9.6" lengthAdjust="spacingAndGlyphs" fill="#111" stroke="#111" stroke-width="0.08">1.00</text>
<line x1="401.4" y1="182.5" x2="404.09999999999997" y2="182.5" stroke="#111" stroke-width="0.9"/>
<text x="398.4" y="184.3" font-size="5.0" text-anchor="end" textLength="9.6" lengthAdjust="spacingAndGlyphs" fill="#111" stroke="#111" stroke-width="0.08">0.75</text>
<line x1="401.4" y1="201.39999999999998" x2="404.09999999999997" y2="201.39999999999998" stroke="#111" stroke-width="0.9"/>
<text x="398.4" y="203.2" font-size="5.0" text-anchor="end" textLength="9.6" lengthAdjust="spacingAndGlyphs" fill="#111" stroke="#111" stroke-width="0.08">0.50</text>
<line x1="401.4" y1="220.29999999999998" x2="404.09999999999997" y2="220.29999999999998" stroke="#111" stroke-width="0.9"/>
<text x="398.4" y="222.1" font-size="5.0" text-anchor="end" textLength="9.6" lengthAdjust="spacingAndGlyphs" fill="#111" stroke="#111" stroke-width="0.08">0.25</text>
<line x1="401.4" y1="239.2" x2="404.09999999999997" y2="239.2" stroke="#111" stroke-width="0.9"/>
<text x="398.4" y="241.0" font-size="5.0" text-anchor="end" textLength="9.6" lengthAdjust="spacingAndGlyphs" fill="#111" stroke="#111" stroke-width="0.08">0.00</text>
<line x1="409.0" y1="242.6" x2="409.0" y2="246" stroke="#111" stroke-width="0.9"/>
<text x="409.0" y="254.4" font-size="5.6" text-anchor="middle" textLength="2.72" lengthAdjust="spacingAndGlyphs" fill="#111" stroke="#111" stroke-width="0.08">0</text>
<line x1="418.13" y1="242.6" x2="418.13" y2="246" stroke="#111" stroke-width="0.9"/>
<text x="418.13" y="254.4" font-size="5.6" text-anchor="middle" textLength="2.72" lengthAdjust="spacingAndGlyphs" fill="#111" stroke="#111" stroke-width="0.08">6</text>
<line x1="427.26" y1="242.6" x2="427.26" y2="246" stroke="#111" stroke-width="0.9"/>
<text x="427.26" y="254.4" font-size="5.6" text-anchor="middle" textLength="5.45" lengthAdjust="spacingAndGlyphs" fill="#111" stroke="#111" stroke-width="0.08">12</text>
<line x1="436.39" y1="242.6" x2="436.39" y2="246" stroke="#111" stroke-width="0.9"/>
<text x="436.39" y="254.4" font-size="5.6" text-anchor="middle" textLength="5.45" lengthAdjust="spacingAndGlyphs" fill="#111" stroke="#111" stroke-width="0.08">18</text>
<line x1="445.52" y1="242.6" x2="445.52" y2="246" stroke="#111" stroke-width="0.9"/>
<text x="445.52" y="254.4" font-size="5.6" text-anchor="middle" textLength="5.45" lengthAdjust="spacingAndGlyphs" fill="#111" stroke="#111" stroke-width="0.08">24</text>
<line x1="454.65" y1="242.6" x2="454.65" y2="246" stroke="#111" stroke-width="0.9"/>
<text x="454.65" y="254.4" font-size="5.6" text-anchor="middle" textLength="5.45" lengthAdjust="spacingAndGlyphs" fill="#111" stroke="#111" stroke-width="0.08">30</text>
<line x1="463.78" y1="242.6" x2="463.78" y2="246" stroke="#111" stroke-width="0.9"/>
<text x="463.78" y="254.4" font-size="5.6" text-anchor="middle" textLength="5.45" lengthAdjust="spacingAndGlyphs" fill="#111" stroke="#111" stroke-width="0.08">36</text>
<line x1="472.90999999999997" y1="242.6" x2="472.90999999999997" y2="246" stroke="#111" stroke-width="0.9"/>
<text x="472.90999999999997" y="254.4" font-size="5.6" text-anchor="middle" textLength="5.45" lengthAdjust="spacingAndGlyphs" fill="#111" stroke="#111" stroke-width="0.08">42</text>
<line x1="482.03999999999996" y1="242.6" x2="482.03999999999996" y2="246" stroke="#111" stroke-width="0.9"/>
<text x="482.03999999999996" y="254.4" font-size="5.6" text-anchor="middle" textLength="5.45" lengthAdjust="spacingAndGlyphs" fill="#111" stroke="#111" stroke-width="0.08">48</text>
<line x1="491.16999999999996" y1="242.6" x2="491.16999999999996" y2="246" stroke="#111" stroke-width="0.9"/>
<text x="491.16999999999996" y="254.4" font-size="5.6" text-anchor="middle" textLength="5.45" lengthAdjust="spacingAndGlyphs" fill="#111" stroke="#111" stroke-width="0.08">54</text>
<line x1="500.29999999999995" y1="242.6" x2="500.29999999999995" y2="246" stroke="#111" stroke-width="0.9"/>
<text x="500.29999999999995" y="254.4" font-size="5.6" text-anchor="middle" textLength="5.45" lengthAdjust="spacingAndGlyphs" fill="#111" stroke="#111" stroke-width="0.08">60</text>
<line x1="509.42999999999995" y1="242.6" x2="509.42999999999995" y2="246" stroke="#111" stroke-width="0.9"/>
<text x="509.42999999999995" y="254.4" font-size="5.6" text-anchor="middle" textLength="5.45" lengthAdjust="spacingAndGlyphs" fill="#111" stroke="#111" stroke-width="0.08">66</text>
<text x="0" y="0" font-size="6.8" text-anchor="middle" fill="#111" stroke="#111" stroke-width="0.22" transform="translate(383.4,201.7) rotate(-90)" textLength="43.4" lengthAdjust="spacingAndGlyphs">Overall survival (%)</text>
<text x="458.4" y="265.8" font-size="7.2" text-anchor="middle" textLength="65.0" lengthAdjust="spacingAndGlyphs" fill="#111" stroke="#111" stroke-width="0.22">Time from diagnosis (months)</text>
<text x="473.29999999999995" y="180.3" font-size="4.9" textLength="25.2" lengthAdjust="spacing" fill="#111" stroke="#111" stroke-width="0.08">p = 0.0023</text>
<line x1="408.7" y1="201.4" x2="512.2" y2="201.4" stroke="#c4c4c4" stroke-width="0.7" stroke-dasharray="2,1"/>
<line x1="430.5" y1="201.4" x2="430.5" y2="240.2" stroke="#c4c4c4" stroke-width="0.75" stroke-dasharray="1.4,0.5"/>
<polyline points="408.50,163.50 410.40,163.20 412.30,164.20 414.20,165.00 417.30,166.20 418.50,167.70 419.20,169.60 421.90,170.40 425.00,171.90 427.30,172.30 428.80,173.80 431.20,175.80 433.50,176.20 436.50,176.30 438.80,177.80 441.90,179.20 444.20,179.50 445.80,180.80 447.70,182.40 452.30,182.40 453.50,183.40 455.00,183.90 456.50,185.50 461.50,185.50 462.70,186.20 464.20,186.40 465.00,187.20 479.60,187.20 481.20,188.30 482.80,189.50 494.40,189.50 496.00,190.80 511.90,190.80" fill="none" stroke="#5a68a0" stroke-width="0.75" stroke-linejoin="miter"/>
<polyline points="408.50,163.50 408.50,165.40 409.20,167.30 410.40,168.50 414.60,168.50 415.40,170.00 415.80,172.30 416.50,174.20 417.70,176.50 418.60,177.70 419.20,181.50 419.80,186.00 420.30,189.30 423.10,189.30 423.60,192.60 424.20,197.60 424.70,198.10 429.20,198.10 429.70,199.30 430.60,203.10 441.00,203.10 441.70,205.90 443.60,206.80 444.70,209.90 511.90,209.90" fill="none" stroke="#c43f66" stroke-width="0.75" stroke-linejoin="miter"/>
<text x="0" y="0" font-size="6.8" text-anchor="middle" fill="#111" stroke="#111" stroke-width="0.22" transform="translate(359.7,287) rotate(-90)" textLength="32" lengthAdjust="spacingAndGlyphs">Albumin levels</text>
<text x="404.2" y="276.5" font-size="5.2" textLength="33" lengthAdjust="spacingAndGlyphs" fill="#111" stroke="#111" stroke-width="0.08">Number at risk</text>
<text x="364.4" y="285.5" font-size="5.3" textLength="33.3" lengthAdjust="spacingAndGlyphs" fill="#4a62a6" stroke="#4a62a6" stroke-width="0.1">Above 3.8g/dL</text>
<text x="364.4" y="292.6" font-size="5.3" textLength="33.3" lengthAdjust="spacingAndGlyphs" fill="#c8385a" stroke="#c8385a" stroke-width="0.1">Below 3.8g/dL</text>
<line x1="403.9" y1="281.2" x2="403.9" y2="294" stroke="#111" stroke-width="1.2"/>
<line x1="401.4" y1="283.5" x2="403.9" y2="283.5" stroke="#111" stroke-width="0.9"/>
<line x1="401.4" y1="290.8" x2="403.9" y2="290.8" stroke="#111" stroke-width="0.9"/>
<line x1="403.4" y1="293.5" x2="513.5999999999999" y2="293.5" stroke="#111" stroke-width="1.2"/>
<line x1="409.0" y1="293.5" x2="409.0" y2="296.8" stroke="#111" stroke-width="0.9"/>
<text x="409.0" y="305.3" font-size="5.6" text-anchor="middle" textLength="2.72" lengthAdjust="spacingAndGlyphs" fill="#111" stroke="#111" stroke-width="0.08">0</text>
<text x="409.0" y="285.7" font-size="5.6" text-anchor="middle" textLength="8.34" lengthAdjust="spacingAndGlyphs" fill="#111" stroke="#111" stroke-width="0.08">100</text>
<text x="409.0" y="291.3" font-size="5.6" text-anchor="middle" textLength="5.56" lengthAdjust="spacingAndGlyphs" fill="#111" stroke="#111" stroke-width="0.08">27</text>
<line x1="418.13" y1="293.5" x2="418.13" y2="296.8" stroke="#111" stroke-width="0.9"/>
<text x="418.13" y="305.3" font-size="5.6" text-anchor="middle" textLength="2.72" lengthAdjust="spacingAndGlyphs" fill="#111" stroke="#111" stroke-width="0.08">6</text>
<text x="418.13" y="285.7" font-size="5.6" text-anchor="middle" textLength="5.56" lengthAdjust="spacingAndGlyphs" fill="#111" stroke="#111" stroke-width="0.08">94</text>
<text x="418.13" y="291.3" font-size="5.6" text-anchor="middle" textLength="5.56" lengthAdjust="spacingAndGlyphs" fill="#111" stroke="#111" stroke-width="0.08">21</text>
<line x1="427.26" y1="293.5" x2="427.26" y2="296.8" stroke="#111" stroke-width="0.9"/>
<text x="427.26" y="305.3" font-size="5.6" text-anchor="middle" textLength="5.45" lengthAdjust="spacingAndGlyphs" fill="#111" stroke="#111" stroke-width="0.08">12</text>
<text x="427.26" y="285.7" font-size="5.6" text-anchor="middle" textLength="5.56" lengthAdjust="spacingAndGlyphs" fill="#111" stroke="#111" stroke-width="0.08">86</text>
<text x="427.26" y="291.3" font-size="5.6" text-anchor="middle" textLength="5.56" lengthAdjust="spacingAndGlyphs" fill="#111" stroke="#111" stroke-width="0.08">14</text>
<line x1="436.39" y1="293.5" x2="436.39" y2="296.8" stroke="#111" stroke-width="0.9"/>
<text x="436.39" y="305.3" font-size="5.6" text-anchor="middle" textLength="5.45" lengthAdjust="spacingAndGlyphs" fill="#111" stroke="#111" stroke-width="0.08">18</text>
<text x="436.39" y="285.7" font-size="5.6" text-anchor="middle" textLength="5.56" lengthAdjust="spacingAndGlyphs" fill="#111" stroke="#111" stroke-width="0.08">81</text>
<text x="436.39" y="291.3" font-size="5.6" text-anchor="middle" textLength="5.56" lengthAdjust="spacingAndGlyphs" fill="#111" stroke="#111" stroke-width="0.08">12</text>
<line x1="445.52" y1="293.5" x2="445.52" y2="296.8" stroke="#111" stroke-width="0.9"/>
<text x="445.52" y="305.3" font-size="5.6" text-anchor="middle" textLength="5.45" lengthAdjust="spacingAndGlyphs" fill="#111" stroke="#111" stroke-width="0.08">24</text>
<text x="445.52" y="285.7" font-size="5.6" text-anchor="middle" textLength="5.56" lengthAdjust="spacingAndGlyphs" fill="#111" stroke="#111" stroke-width="0.08">71</text>
<text x="445.52" y="291.3" font-size="5.6" text-anchor="middle" textLength="5.56" lengthAdjust="spacingAndGlyphs" fill="#111" stroke="#111" stroke-width="0.08">10</text>
<line x1="454.65" y1="293.5" x2="454.65" y2="296.8" stroke="#111" stroke-width="0.9"/>
<text x="454.65" y="305.3" font-size="5.6" text-anchor="middle" textLength="5.45" lengthAdjust="spacingAndGlyphs" fill="#111" stroke="#111" stroke-width="0.08">30</text>
<text x="454.65" y="285.7" font-size="5.6" text-anchor="middle" textLength="5.56" lengthAdjust="spacingAndGlyphs" fill="#111" stroke="#111" stroke-width="0.08">62</text>
<text x="454.65" y="291.3" font-size="5.6" text-anchor="middle" textLength="5.56" lengthAdjust="spacingAndGlyphs" fill="#111" stroke="#111" stroke-width="0.08">10</text>
<line x1="463.78" y1="293.5" x2="463.78" y2="296.8" stroke="#111" stroke-width="0.9"/>
<text x="463.78" y="305.3" font-size="5.6" text-anchor="middle" textLength="5.45" lengthAdjust="spacingAndGlyphs" fill="#111" stroke="#111" stroke-width="0.08">36</text>
<text x="463.78" y="285.7" font-size="5.6" text-anchor="middle" textLength="5.56" lengthAdjust="spacingAndGlyphs" fill="#111" stroke="#111" stroke-width="0.08">55</text>
<text x="463.78" y="291.3" font-size="5.6" text-anchor="middle" textLength="2.78" lengthAdjust="spacingAndGlyphs" fill="#111" stroke="#111" stroke-width="0.08">9</text>
<line x1="472.90999999999997" y1="293.5" x2="472.90999999999997" y2="296.8" stroke="#111" stroke-width="0.9"/>
<text x="472.90999999999997" y="305.3" font-size="5.6" text-anchor="middle" textLength="5.45" lengthAdjust="spacingAndGlyphs" fill="#111" stroke="#111" stroke-width="0.08">42</text>
<text x="472.90999999999997" y="285.7" font-size="5.6" text-anchor="middle" textLength="5.56" lengthAdjust="spacingAndGlyphs" fill="#111" stroke="#111" stroke-width="0.08">50</text>
<text x="472.90999999999997" y="291.3" font-size="5.6" text-anchor="middle" textLength="2.78" lengthAdjust="spacingAndGlyphs" fill="#111" stroke="#111" stroke-width="0.08">8</text>
<line x1="482.03999999999996" y1="293.5" x2="482.03999999999996" y2="296.8" stroke="#111" stroke-width="0.9"/>
<text x="482.03999999999996" y="305.3" font-size="5.6" text-anchor="middle" textLength="5.45" lengthAdjust="spacingAndGlyphs" fill="#111" stroke="#111" stroke-width="0.08">48</text>
<text x="482.03999999999996" y="285.7" font-size="5.6" text-anchor="middle" textLength="5.56" lengthAdjust="spacingAndGlyphs" fill="#111" stroke="#111" stroke-width="0.08">46</text>
<text x="482.03999999999996" y="291.3" font-size="5.6" text-anchor="middle" textLength="2.78" lengthAdjust="spacingAndGlyphs" fill="#111" stroke="#111" stroke-width="0.08">8</text>
<line x1="491.16999999999996" y1="293.5" x2="491.16999999999996" y2="296.8" stroke="#111" stroke-width="0.9"/>
<text x="491.16999999999996" y="305.3" font-size="5.6" text-anchor="middle" textLength="5.45" lengthAdjust="spacingAndGlyphs" fill="#111" stroke="#111" stroke-width="0.08">54</text>
<text x="491.16999999999996" y="285.7" font-size="5.6" text-anchor="middle" textLength="5.56" lengthAdjust="spacingAndGlyphs" fill="#111" stroke="#111" stroke-width="0.08">40</text>
<text x="491.16999999999996" y="291.3" font-size="5.6" text-anchor="middle" textLength="2.78" lengthAdjust="spacingAndGlyphs" fill="#111" stroke="#111" stroke-width="0.08">8</text>
<line x1="500.29999999999995" y1="293.5" x2="500.29999999999995" y2="296.8" stroke="#111" stroke-width="0.9"/>
<text x="500.29999999999995" y="305.3" font-size="5.6" text-anchor="middle" textLength="5.45" lengthAdjust="spacingAndGlyphs" fill="#111" stroke="#111" stroke-width="0.08">60</text>
<text x="500.29999999999995" y="285.7" font-size="5.6" text-anchor="middle" textLength="5.56" lengthAdjust="spacingAndGlyphs" fill="#111" stroke="#111" stroke-width="0.08">35</text>
<text x="500.29999999999995" y="291.3" font-size="5.6" text-anchor="middle" textLength="2.78" lengthAdjust="spacingAndGlyphs" fill="#111" stroke="#111" stroke-width="0.08">8</text>
<line x1="509.42999999999995" y1="293.5" x2="509.42999999999995" y2="296.8" stroke="#111" stroke-width="0.9"/>
<text x="509.42999999999995" y="305.3" font-size="5.6" text-anchor="middle" textLength="5.45" lengthAdjust="spacingAndGlyphs" fill="#111" stroke="#111" stroke-width="0.08">66</text>
<text x="509.42999999999995" y="285.7" font-size="5.6" text-anchor="middle" textLength="5.56" lengthAdjust="spacingAndGlyphs" fill="#111" stroke="#111" stroke-width="0.08">32</text>
<text x="509.42999999999995" y="291.3" font-size="5.6" text-anchor="middle" textLength="2.78" lengthAdjust="spacingAndGlyphs" fill="#111" stroke="#111" stroke-width="0.08">8</text>
<text x="458.4" y="317.2" font-size="7.2" text-anchor="middle" textLength="65.0" lengthAdjust="spacingAndGlyphs" fill="#111" stroke="#111" stroke-width="0.22">Time from diagnosis (months)</text>
<rect x="0" y="0" width="520" height="1.2" fill="#000"/><rect x="0" y="323.7" width="520" height="1.3" fill="#000"/><rect x="0" y="0" width="1.15" height="325" fill="#000"/><rect x="518.7" y="0" width="1.3" height="325" fill="#000"/>
</svg></div></body></html>
